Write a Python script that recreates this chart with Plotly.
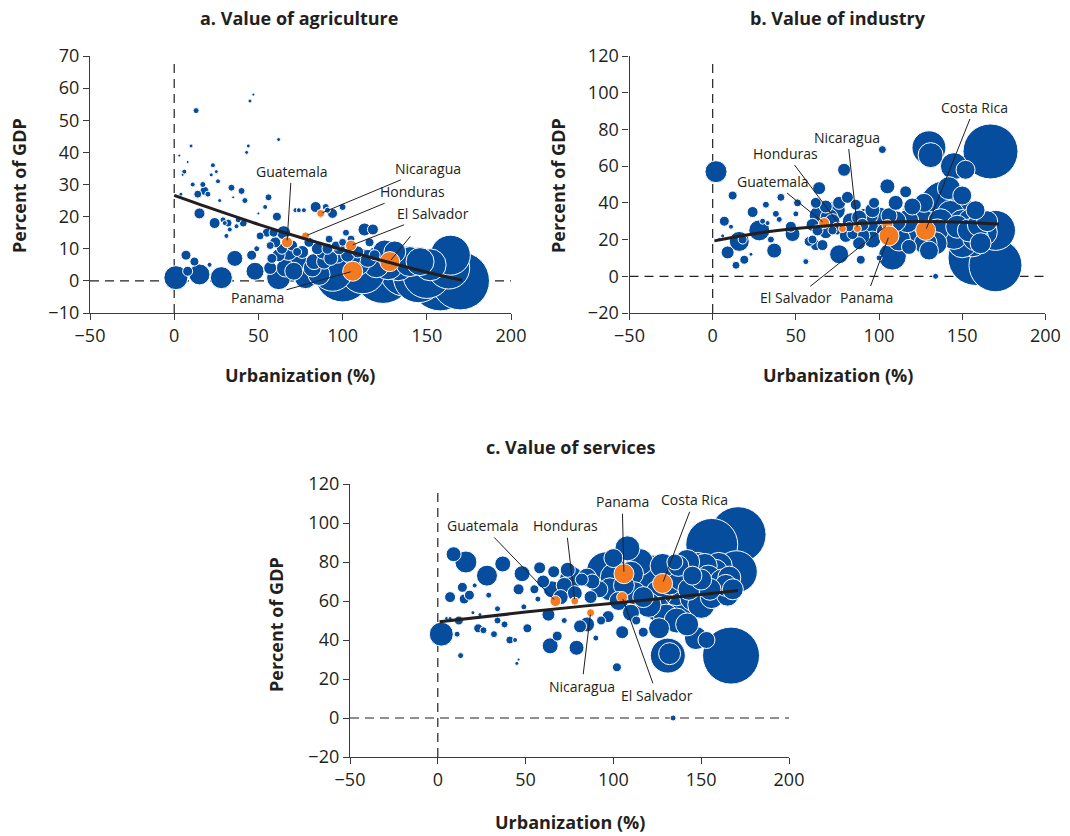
import plotly.graph_objects as go

# ---------------- data ----------------
# Panel a: value of agriculture (urbanization %, percent of GDP, bubble weight)
agri_x = [3, 4, 6, 5, 8, 10, 13, 11, 14, 17, 18, 20, 15, 23, 25, 22, 26, 27, 24, 29, 30, 32, 31, 33, 34, 35, 37, 38,
          40, 41, 42, 43, 44, 45, 47, 50, 54, 56, 62, 61,
          1, 7, 12, 8, 15, 21, 28, 36, 46, 49, 48, 51, 55, 57, 59, 58, 57, 62, 65, 64, 68, 69, 73, 72, 74, 77, 73,
          78, 82, 85, 84, 90, 91, 94, 100, 92, 88, 98, 97, 94, 100, 109, 113, 118, 116, 119, 112, 124, 125, 131,
          137, 145, 150, 158, 164, 163, 170,
          60, 62, 66, 70, 71, 76, 80, 83, 86, 89, 91, 93, 96, 103, 106, 110, 115, 120, 127, 133, 140, 146, 152,
          105, 102, 100]
agri_y = [39, 27, 34, 33, 37, 42, 53, 30, 27, 30, 28, 27, 21, 36, 34, 33, 31, 25, 18, 19, 18, 18, 14, 16, 29, 26, 17, 19,
          28, 18, 25, 40, 42, 56, 58, 21, 23, 26, 44, 20,
          1, 8, 6, 3, 2, 5, 1, 7, 8, 10, 3, 14, 15, 11, 15, 7, 4, 1, 15, 10, 9, 6, 9, 22, 22, 22, 6,
          1, 4, 10, 23, 23, 22, 21, 23, 13, 9, 10, 8, 3, 2, 9, 16, 16, 12, 8, 3, 2, 9, 9,
          3, 1, 2, 0, 8, 4, 0,
          12, 8, 4, 11, 3, 9, 12, 6, 2, 6, 10, 7, 11, 8, 7, 5, 7, 5, 5, 5, 6, 6, 5,
          13, 15, 12]
agri_w = [3, 4, 5, 3, 3, 4, 6, 5, 8, 6, 9, 6, 11, 5, 4, 4, 5, 4, 11, 6, 5, 8, 5, 5, 7, 3, 5, 6,
          7, 8, 6, 4, 4, 4, 3, 3, 5, 7, 4, 9,
          24, 10, 9, 10, 21, 5, 22, 16, 10, 6, 18, 8, 9, 8, 9, 10, 13, 24, 14, 11, 17, 20, 9, 5, 5, 5, 20,
          22, 18, 12, 11, 7, 6, 10, 7, 8, 14, 12, 16, 40, 55, 12, 13, 11, 9, 11, 45, 58, 24, 22,
          50, 50, 48, 60, 40, 42, 58,
          11, 13, 18, 11, 18, 13, 10, 16, 22, 15, 11, 14, 9, 14, 16, 20, 18, 26, 30, 32, 30, 28, 32,
          8, 7, 8]

# Panel b: value of industry
ind_x = [2, 12, 7, 11, 9, 14, 16, 18, 19, 24, 28, 23, 4, 6, 32, 30, 33, 35, 37, 38, 41, 40, 48, 47, 51, 50, 56, 58,
         60, 62, 64, 64, 66, 70, 76, 74, 79, 81, 84, 86, 89, 92, 90, 97, 102, 105, 99, 108, 106, 116, 113, 123,
         120, 130, 131, 145, 152, 140, 143, 135, 134, 147, 154, 158, 158, 156, 161, 167, 158, 170, 170, 134,
         100, 72, 82, 95,
         60, 63, 68, 72, 75, 80, 83, 88, 90, 94, 96, 100, 104, 110, 112, 117, 118, 122, 126, 128, 132, 137, 140,
         145, 150, 150, 155, 160, 163, 165, 76, 68, 62, 88, 110, 96, 118, 130, 127, 142, 150]
ind_y = [57, 44, 30, 27, 13, 6, 19, 20, 9, 35, 25, 12, 20, 22, 39, 30, 29, 20, 14, 34, 43, 31, 23, 27, 40, 34, 8, 19,
         20, 17, 48, 33, 17, 32, 12, 36, 58, 43, 23, 39, 9, 32, 28, 40, 69, 49, 27, 11, 33, 46, 27, 26,
         38, 70, 66, 60, 58, 38, 34, 25, 18, 27, 25, 36, 21, 19, 18, 68, 10, 6, 25, 0,
         10, 25, 27, 33,
         28, 25, 24, 30, 26, 22, 30, 32, 22, 27, 20, 32, 24, 30, 20, 30, 22, 34, 30, 18, 28, 30, 26,
         22, 29, 18, 30, 28, 24, 30, 40, 38, 40, 18, 40, 36, 16, 14, 40, 48, 44]
ind_w = [22, 9, 10, 5, 13, 8, 20, 9, 9, 11, 21, 4, 4, 4, 7, 6, 5, 7, 15, 7, 8, 6, 15, 11, 8, 6, 6, 10,
         9, 11, 13, 20, 11, 18, 19, 19, 13, 12, 11, 11, 9, 19, 13, 11, 8, 15, 30, 28, 16, 12, 28, 42,
         17, 34, 25, 27, 19, 52, 27, 23, 23, 23, 23, 19, 26, 31, 21, 55, 55, 53, 40, 6,
         6, 9, 10, 15,
         13, 11, 13, 15, 13, 13, 17, 15, 15, 19, 17, 21, 19, 21, 23, 23, 25, 27, 25, 23, 27, 25, 29,
         27, 27, 29, 25, 23, 27, 21, 13, 13, 11, 13, 15, 15, 15, 19, 19, 23, 19]

# Panel c: value of services
svc_x = [2, 9, 16, 7, 14, 15, 18, 12, 11, 13, 5, 7, 21, 23, 26, 28, 29, 32, 34, 34, 20, 24, 37, 38, 41, 44, 45, 46,
         48, 46, 49, 51, 55, 58, 57, 63, 66, 64, 68, 72, 76, 72, 79, 81, 82, 90, 97, 93, 96, 101, 105, 102,
         108, 113, 117, 117, 122, 125, 130, 131, 132, 141, 143, 137, 147, 153, 156, 171, 170, 158, 152, 159,
         165, 164, 155, 150, 145, 135, 134, 134, 145, 87, 85, 167,
         98, 103, 106, 110, 112, 115, 118, 120, 126, 128, 132, 136, 139, 142, 146, 148, 150, 154, 156, 160,
         162, 166, 168, 126, 136, 142, 110, 100, 88, 85, 78, 70, 65, 60, 74, 92]
svc_y = [43, 84, 80, 62, 67, 61, 63, 50, 43, 32, 51, 51, 68, 46, 45, 73, 63, 43, 56, 50, 54, 53, 79, 48, 40, 40, 28, 30,
         74, 66, 57, 46, 66, 77, 61, 53, 75, 37, 42, 50, 72, 68, 36, 47, 71, 41, 52, 50, 75, 72, 44, 26,
         87, 50, 44, 62, 72, 56, 52, 32, 33, 59, 66, 78, 41, 40, 89, 94, 75, 75, 78, 68,
         63, 68, 66, 71, 73, 80, 0, 61, 66, 62, 48, 32,
         66, 60, 68, 74, 64, 80, 72, 58, 64, 78, 70, 65, 72, 80, 62, 78, 58, 72, 62, 78,
         70, 72, 66, 46, 50, 48, 54, 82, 70, 72, 64, 62, 66, 70, 76, 66]
svc_w = [24, 15, 22, 11, 10, 10, 10, 9, 6, 6, 4, 4, 5, 9, 7, 21, 6, 7, 6, 7, 4, 4, 16, 7, 8, 5, 4, 3,
         16, 11, 6, 9, 9, 12, 6, 13, 12, 16, 10, 6, 23, 16, 15, 13, 13, 6, 12, 9, 40, 30, 13, 9,
         25, 9, 10, 21, 45, 25, 25, 35, 22, 35, 22, 21, 23, 17, 52, 56, 42, 25, 25, 25,
         22, 22, 22, 21, 19, 16, 6, 40, 38, 13, 15, 57,
         23, 19, 21, 25, 23, 27, 29, 25, 27, 25, 27, 29, 27, 25, 29, 27, 27, 25, 23, 27,
         25, 23, 21, 21, 25, 23, 17, 19, 15, 19, 15, 15, 17, 13, 15, 17]

# Central American countries (highlighted)
ca_names = ["Guatemala", "Honduras", "Nicaragua", "El Salvador", "Panama", "Costa Rica"]
ca_x = [67, 78, 87, 105, 106, 128]
ca_w = [11, 8, 8, 11, 20, 20]
ca_agri = [12, 14, 21, 11, 3, 6]
ca_ind = [29, 26, 26, 28, 22, 25]
ca_svc = [60, 60, 54, 62, 74, 69]

# Fitted trend lines
trend_a_x = [0, 25, 50, 75, 100, 125, 150, 171]
trend_a_y = [26.6, 22.0, 17.6, 13.5, 9.7, 6.1, 2.7, 0.2]
trend_b_x = [1, 25, 50, 75, 100, 125, 150, 172]
trend_b_y = [19.3, 23.2, 26.0, 28.0, 29.3, 29.8, 29.5, 28.5]
trend_c_x = [1, 50, 100, 150, 171]
trend_c_y = [49.3, 54.3, 58.9, 63.3, 65.4]

# Axis ticks
x_ticks = [-50, 0, 50, 100, 150, 200]
a_yticks = [-10, 0, 10, 20, 30, 40, 50, 60, 70]
bc_yticks = [-20, 0, 20, 40, 60, 80, 100, 120]

titles = ["a. Value of agriculture", "b. Value of industry", "c. Value of services"]
x_title = "Urbanization (%)"
y_title = "Percent of GDP"

# ---------------- styles ----------------
BLUE = "#064d9e"
ORANGE = "#f47a20"
INK = "#231f20"
FONT = "Open Sans"
W, H = 1070, 836

fig = go.Figure()

panels = [
    dict(xa="x", ya="y", xs=agri_x, ys=agri_y, ws=agri_w, ca_y=ca_agri, tx=trend_a_x, ty=trend_a_y),
    dict(xa="x2", ya="y2", xs=ind_x, ys=ind_y, ws=ind_w, ca_y=ca_ind, tx=trend_b_x, ty=trend_b_y),
    dict(xa="x3", ya="y3", xs=svc_x, ys=svc_y, ws=svc_w, ca_y=ca_svc, tx=trend_c_x, ty=trend_c_y),
]

for p in panels:
    order = sorted(range(len(p["xs"])), key=lambda i: -p["ws"][i])
    fig.add_trace(go.Scatter(
        x=[p["xs"][i] for i in order], y=[p["ys"][i] for i in order],
        mode="markers", xaxis=p["xa"], yaxis=p["ya"], showlegend=False, hoverinfo="skip",
        marker=dict(size=[p["ws"][i] for i in order], sizemode="diameter", sizeref=1,
                    color=BLUE, opacity=1, line=dict(color="white", width=1)),
    ))
    fig.add_trace(go.Scatter(
        x=ca_x, y=p["ca_y"], text=ca_names, mode="markers", xaxis=p["xa"], yaxis=p["ya"],
        showlegend=False, hoverinfo="text",
        marker=dict(size=ca_w, sizemode="diameter", sizeref=1, color=ORANGE, opacity=1,
                    line=dict(color="white", width=1)),
    ))
    fig.add_trace(go.Scatter(
        x=p["tx"], y=p["ty"], mode="lines", xaxis=p["xa"], yaxis=p["ya"], showlegend=False,
        hoverinfo="skip", line=dict(color=INK, width=3, shape="spline"),
    ))

axis_common = dict(showline=True, linecolor="#3b3b3b", linewidth=1.3, ticks="outside", ticklen=6,
                   tickwidth=1.3, tickcolor="#3b3b3b", showgrid=False, zeroline=False,
                   tickfont=dict(family=FONT, size=18, color=INK), mirror=False)

dom = {
    "a": dict(x=[90 / W, 511 / W], y=[1 - 313 / H, 1 - 56 / H]),
    "b": dict(x=[629.5 / W, 1045.4 / W], y=[1 - 313 / H, 1 - 56 / H]),
    "c": dict(x=[350 / W, 789 / W], y=[1 - 757 / H, 1 - 484 / H]),
}

fig.update_layout(
    width=W, height=H, margin=dict(l=0, r=0, t=0, b=0, autoexpand=False),
    paper_bgcolor="white", plot_bgcolor="white",
    font=dict(family=FONT, color=INK),
    xaxis=dict(domain=dom["a"]["x"], range=[-50, 200], tickvals=x_ticks, anchor="y", **axis_common),
    yaxis=dict(domain=dom["a"]["y"], range=[-10, 70], tickvals=a_yticks, anchor="x", **axis_common),
    xaxis2=dict(domain=dom["b"]["x"], range=[-50, 200], tickvals=x_ticks, anchor="y2", **axis_common),
    yaxis2=dict(domain=dom["b"]["y"], range=[-20, 120], tickvals=bc_yticks, anchor="x2", **axis_common),
    xaxis3=dict(domain=dom["c"]["x"], range=[-50, 200], tickvals=x_ticks, anchor="y3", **axis_common),
    yaxis3=dict(domain=dom["c"]["y"], range=[-20, 120], tickvals=bc_yticks, anchor="x3", **axis_common),
)

# dashed zero reference lines
shapes = []
for xa, ya in [("x", "y"), ("x2", "y2"), ("x3", "y3")]:
    dash_line = dict(color=INK, width=1.2, dash="9px,6px")
    shapes.append(dict(type="line", xref=f"{xa} domain", yref=ya, x0=0, x1=1, y0=0, y1=0,
                       line=dash_line, layer="below"))
    shapes.append(dict(type="line", xref=xa, yref=f"{ya} domain", x0=0, x1=0, y0=0, y1=0.985,
                       line=dash_line, layer="below"))
fig.update_layout(shapes=shapes)

ann = []
# panel titles
for t, (cx, cy) in zip(titles, [(298.5, 18), (838, 18), (570, 447)]):
    ann.append(dict(text=f"<b>{t}</b>", x=cx / W, y=1 - cy / H, xref="paper", yref="paper",
                    showarrow=False, xanchor="center", yanchor="middle",
                    font=dict(family=FONT, size=18, color=INK)))
# axis titles
for cx, cy in [(300, 375), (838, 375), (570, 822)]:
    ann.append(dict(text=f"<b>{x_title}</b>", x=cx / W, y=1 - cy / H, xref="paper", yref="paper",
                    showarrow=False, xanchor="center", yanchor="middle",
                    font=dict(family=FONT, size=18, color=INK)))
for cx, cy in [(19, 186), (558, 186), (276, 625)]:
    ann.append(dict(text=f"<b>{y_title}</b>", x=cx / W, y=1 - cy / H, xref="paper", yref="paper",
                    showarrow=False, xanchor="center", yanchor="middle", textangle=-90,
                    font=dict(family=FONT, size=18, color=INK)))

# country leader labels: (panel axes, name, label position in data units)
label_pos = [
    ("x", "y", "Guatemala", 69.7, 34.2), ("x", "y", "Nicaragua", 150.8, 35.0),
    ("x", "y", "Honduras", 141.3, 27.7), ("x", "y", "El Salvador", 153.8, 21.0),
    ("x", "y", "Panama", 49.5, -5.3), ("x", "y", "Costa Rica", 141.4, 14.6),
    ("x2", "y2", "Costa Rica", 157.5, 92.2), ("x2", "y2", "Nicaragua", 81.0, 75.8),
    ("x2", "y2", "Honduras", 43.9, 67.0), ("x2", "y2", "Guatemala", 36.0, 51.7),
    ("x2", "y2", "El Salvador", 49.9, -11.8), ("x2", "y2", "Panama", 92.3, -11.8),
    ("x3", "y3", "Guatemala", 25.7, 98.6), ("x3", "y3", "Honduras", 73.0, 98.6),
    ("x3", "y3", "Panama", 105.0, 110.9), ("x3", "y3", "Costa Rica", 146.0, 111.9),
    ("x3", "y3", "Nicaragua", 82.0, 16.3), ("x3", "y3", "El Salvador", 124.9, 11.7),
]
ca_vals = {"x": ca_agri, "x2": ca_ind, "x3": ca_svc}
for xa, ya, name, lx, ly in label_pos:
    i = ca_names.index(name)
    # in panel a, Costa Rica's leader line has no text
    shown = "" if (xa == "x" and name == "Costa Rica") else name
    ann.append(dict(text=shown, x=ca_x[i], y=ca_vals[xa][i], xref=xa, yref=ya,
                    ax=lx, ay=ly, axref=xa, ayref=ya, showarrow=True, arrowhead=0,
                    arrowwidth=1, arrowcolor=INK, standoff=2, startstandoff=1,
                    font=dict(family=FONT, size=14, color=INK)))

fig.update_layout(annotations=ann)
fig.write_html("out.html", config={"displayModeBar": False},
               post_script="document.body.style.margin='0';document.body.style.overflow='hidden';")
